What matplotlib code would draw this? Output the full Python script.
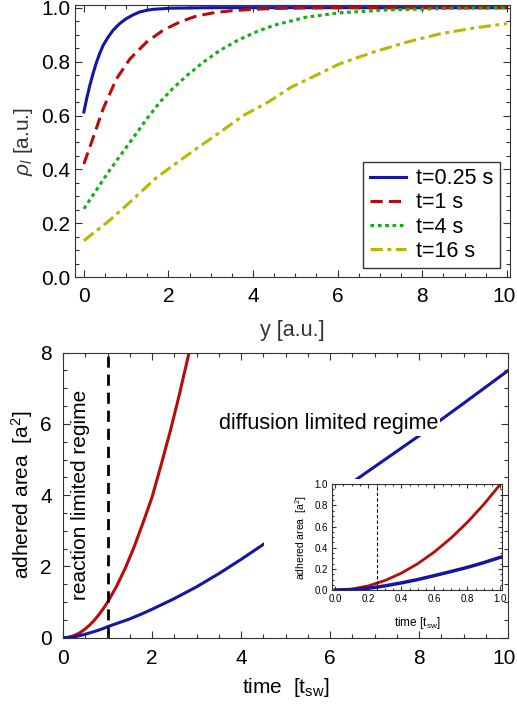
import numpy as np
import matplotlib
matplotlib.use("Agg")
import matplotlib.pyplot as plt
from matplotlib.ticker import MultipleLocator
from matplotlib.patches import Rectangle
from matplotlib.transforms import ScaledTranslation

plt.rcParams['font.family'] = ['Liberation Sans', 'DejaVu Sans']
plt.rcParams['mathtext.fontset'] = 'custom'
plt.rcParams['mathtext.rm'] = 'Liberation Sans'
plt.rcParams['mathtext.it'] = 'Liberation Sans:italic'
plt.rcParams['lines.solid_joinstyle'] = 'round'

# --- top panel: density profiles rho_l(y) at several times
y_025 = [0, 0.07, 0.142, 0.22, 0.3, 0.38, 0.456, 0.57, 0.69, 0.84, 1.0, 1.16, 1.32, 1.48, 1.64, 1.85, 2.03, 2.5, 3.0, 10]
rho_025 = [0.613, 0.665, 0.712, 0.757, 0.798, 0.832, 0.86, 0.89, 0.916, 0.94, 0.959, 0.973, 0.984, 0.99, 0.994, 0.996,
           0.998, 0.999, 1.0, 1.0]

y_1 = [0, 0.18, 0.456, 0.77, 1.09, 1.48, 1.87, 2.27, 2.66, 3.1, 3.52, 4.0, 4.5, 5.2, 6.0, 10]
rho_1 = [0.42, 0.50, 0.625, 0.736, 0.81, 0.872, 0.916, 0.947, 0.969, 0.982, 0.989, 0.994, 0.997, 0.999, 1.0, 1.0]

y_4 = [0, 0.3, 0.6, 0.9, 1.2, 1.5, 1.8, 2.1, 2.45, 2.8, 3.2, 3.65, 4.1, 4.5, 5.26, 6.05, 7.2, 8.5, 10]
rho_4 = [0.254, 0.325, 0.395, 0.46, 0.525, 0.59, 0.65, 0.70, 0.75, 0.795, 0.84, 0.88, 0.912, 0.935, 0.965, 0.981, 0.992,
         0.997, 1.0]

y_16 = [0, 0.6, 1.1, 1.68, 2.11, 2.66, 3.22, 3.77, 4.36, 4.9, 5.5, 6.05, 6.84, 7.63, 8.42, 9.2, 10]
rho_16 = [0.136, 0.21, 0.28, 0.365, 0.415, 0.477, 0.538, 0.60, 0.65, 0.705, 0.75, 0.792, 0.835, 0.872, 0.903, 0.924,
          0.941]

labels_top = ['t=0.25 s', 't=1 s', 't=4 s', 't=16 s']

# --- bottom panel: adhered area vs time
t_red = [0, 0.1, 0.2, 0.3, 0.4, 0.5, 0.6, 0.7, 0.8, 0.9, 1.0, 1.2, 1.4, 1.6, 1.8, 2.0, 2.2, 2.4, 2.6, 2.83]
area_red = [0, 0.01, 0.04, 0.09, 0.16, 0.25, 0.36, 0.49, 0.64, 0.81, 1.0, 1.44, 1.96, 2.56, 3.24, 3.95, 4.84, 5.76,
            6.76, 8.0]

t_blue = [0, 0.1, 0.2, 0.3, 0.4, 0.5, 0.6, 0.7, 0.8, 0.9, 1.0, 1.25, 1.5, 1.75, 2.0, 2.5, 3.0, 3.5, 4.0, 4.5,
          5.0, 6.0, 7.0, 8.0, 9.0, 10.0]
area_blue = [0, 0.005, 0.018, 0.04, 0.068, 0.1, 0.137, 0.175, 0.215, 0.26, 0.31, 0.42, 0.53, 0.66, 0.8, 1.1, 1.43,
             1.8, 2.2, 2.62, 3.05, 3.93, 4.8, 5.67, 6.58, 7.5]

x_ticks_main = [0, 2, 4, 6, 8, 10]
t_switch = 1.0
t_switch_inset = 0.25

blue = '#1414a8'
red = '#b80c0c'
green = '#10b010'
yellow = '#b8b800'
frame = '#333333'


def style_axes(ax, xmaj, xmin, ymaj, ymin, big, small):
    ax.xaxis.set_major_locator(MultipleLocator(xmaj))
    ax.xaxis.set_minor_locator(MultipleLocator(xmin))
    ax.yaxis.set_major_locator(MultipleLocator(ymaj))
    ax.yaxis.set_minor_locator(MultipleLocator(ymin))
    ax.tick_params(which='both', direction='in', top=True, right=True, color=frame, width=0.8)
    ax.tick_params(which='major', length=big)
    ax.tick_params(which='minor', length=small)
    for s in ax.spines.values():
        s.set_color(frame)
        s.set_linewidth(0.8)


def nudge_last_xlabel(ax, fig, px):
    # the "10" label sits right at the figure edge, pull it in a little
    ax.set_xticks(x_ticks_main)
    last = ax.xaxis.get_major_ticks()[-1].label1
    last.set_transform(last.get_transform() + ScaledTranslation(-px / 100, 0, fig.dpi_scale_trans))


fig = plt.figure(figsize=(5.17, 7.11), dpi=100)

# top panel
ax1 = fig.add_axes([0.145, 0.610, 0.841, 0.383])
ax1.plot(y_025, rho_025, color=blue, lw=2.2, label=labels_top[0])
ax1.plot(y_1, rho_1, color=red, lw=2.2, dashes=(4, 2), label=labels_top[1])
ax1.plot(y_4, rho_4, color=green, lw=2.2, dashes=(1.2, 1.2), label=labels_top[2])
ax1.plot(y_16, rho_16, color=yellow, lw=2.2, dashes=(4, 1.5, 1.3, 1.5), label=labels_top[3])
ax1.set_xlim(-0.21, 10.07)
ax1.set_ylim(0, 1.01)
style_axes(ax1, 2, 0.5, 0.2, 0.05, 5, 3)
ax1.tick_params(labelsize=15)
ax1.tick_params(axis='x', pad=7)
ax1.set_yticks([0, 0.2, 0.4, 0.6, 0.8, 1.0])
ax1.set_yticklabels(['0.0', '0.2', '0.4', '0.6', '0.8', '1.0'])
nudge_last_xlabel(ax1, fig, 3)
ax1.set_xlabel('y [a.u.]', fontsize=15.5, color='#333333', labelpad=10)
ax1.set_ylabel(r'$\rho_l$ [a.u.]', fontsize=15, color='#333333', labelpad=4)
leg = ax1.legend(loc='lower right', fontsize=15.5, frameon=True, fancybox=False, handlelength=1.7,
                 borderpad=0.3, labelspacing=0.15, handletextpad=0.45, borderaxespad=0,
                 bbox_to_anchor=(0.977, 0.033))
leg.get_frame().set_edgecolor('black')
leg.get_frame().set_linewidth(1.0)

# bottom panel
ax2 = fig.add_axes([0.122, 0.103, 0.861, 0.401])
ax2.set_axisbelow(False)
ax2.plot(t_red, area_red, color=red, lw=2.2, zorder=2)
ax2.plot(t_blue, area_blue, color=blue, lw=2.2, zorder=2)
ax2.axvline(t_switch, color='black', lw=2, dashes=(4, 2.5), zorder=2.1)
ax2.set_xlim(0, 10)
ax2.set_ylim(0, 8)
style_axes(ax2, 2, 0.5, 2, 0.5, 5, 3)
ax2.tick_params(labelsize=15, pad=8)
nudge_last_xlabel(ax2, fig, 4)
ax2.set_xlabel(r'time  [t$_{\rm sw}$]', fontsize=15, labelpad=6)
ax2.set_ylabel(r'adhered area  [a$^2$]', fontsize=15, labelpad=4)
ax2.text(0.4, 4.0, 'reaction limited regime', rotation=90, fontsize=15, ha='center', va='center')
ax2.text(5.97, 6.0, 'diffusion limited regime', fontsize=15.5, ha='center', va='center',
         bbox=dict(facecolor='white', edgecolor='none', pad=1), zorder=3)
# white backing behind the inset
ax2.add_patch(Rectangle((4.52, 0.15), 5.45, 4.3, facecolor='white', edgecolor='none', zorder=2.2))

# inset
ax3 = fig.add_axes([0.642, 0.170, 0.329, 0.149])
ax3.plot(t_red, area_red, color=red, lw=2)
ax3.plot(t_blue, area_blue, color=blue, lw=2.5)
ax3.axvline(t_switch_inset, color='black', lw=0.8, dashes=(3, 2))
ax3.set_xlim(-0.02, 1.01)
ax3.set_ylim(0, 1.0)
style_axes(ax3, 0.2, 0.05, 0.2, 0.05, 3, 1.5)
ax3.tick_params(labelsize=7, pad=3)
ax3.set_xticks([0, 0.2, 0.4, 0.6, 0.8, 1.0])
ax3.set_xticklabels(['0.0', '0.2', '0.4', '0.6', '0.8', '1.0'])
ax3.set_yticks([0, 0.2, 0.4, 0.6, 0.8, 1.0])
ax3.set_yticklabels(['0.0', '0.2', '0.4', '0.6', '0.8', '1.0'])
ax3.set_xlabel(r'time [t$_{\rm sw}$]', fontsize=8.5, labelpad=8)
ax3.set_ylabel(r'adhered area  [a$^2$]', fontsize=7.5, labelpad=4)

fig.savefig('out.png', dpi=100)
